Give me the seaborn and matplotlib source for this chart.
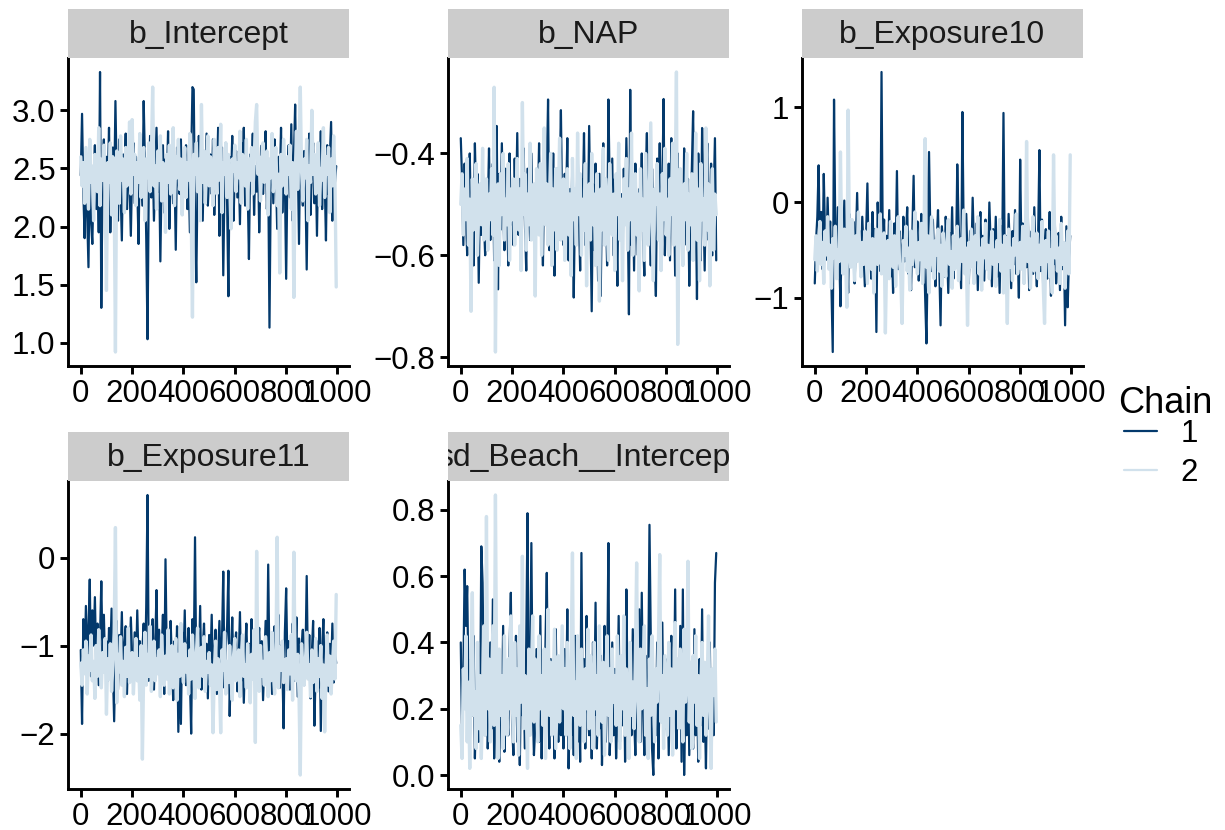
import numpy as np
import pandas as pd
import matplotlib
matplotlib.use("Agg")
import matplotlib.pyplot as plt
from matplotlib.lines import Line2D
from matplotlib.ticker import MultipleLocator
import seaborn as sns

# Trace values (every 5th iteration, chains 1 and 2)
parametros = ["b_Intercept", "b_NAP", "b_Exposure10", "b_Exposure11", "sd_Beach__Intercept"]
cadeias = ["1", "2"]
passo_iter = 5

b_intercept_c1 = [
    2.44, 2.97, 2.30, 1.90, 2.55, 2.10, 1.65, 2.62, 2.05, 1.85, 2.40, 2.70, 2.15, 2.58, 1.95, 3.33, 1.30, 2.48, 2.75, 2.20,
    2.60, 2.35, 2.85, 1.95, 2.52, 2.68, 2.25, 3.08, 2.40, 2.05, 2.75, 2.30, 1.88, 2.62, 2.45, 2.80, 2.15, 2.55, 2.38, 1.92,
    2.50, 2.72, 2.20, 2.60, 2.35, 1.85, 2.65, 2.42, 2.18, 3.08, 2.55, 1.90, 1.03, 2.40, 2.78, 2.25, 2.60, 2.05, 2.45, 2.85,
    2.30, 2.55, 1.70, 2.48, 2.70, 2.12, 2.58, 2.35, 2.82, 1.98, 2.45, 2.62, 2.20, 2.50, 1.80, 2.68, 2.40, 2.28, 2.75, 2.10,
    2.55, 2.38, 2.70, 2.15, 2.48, 1.95, 2.60, 3.20, 3.18, 2.05, 1.52, 2.42, 2.78, 2.25, 2.52, 2.05, 2.65, 2.30, 2.80, 2.18,
    2.45, 2.62, 2.28, 2.75, 2.10, 2.55, 2.38, 2.85, 1.92, 2.50, 2.68, 1.58, 2.40, 2.72, 2.20, 1.40, 2.60, 2.35, 2.78, 2.05,
    2.48, 2.65, 2.25, 2.55, 2.02, 2.72, 2.40, 2.85, 2.18, 2.58, 2.35, 1.72, 2.62, 2.45, 2.80, 2.10, 2.52, 2.30, 2.68, 1.95,
    2.42, 2.70, 2.28, 2.58, 2.82, 2.15, 2.50, 1.13, 2.38, 2.65, 2.20, 2.75, 2.45, 1.98, 2.60, 2.35, 2.85, 2.12, 2.55, 2.40,
    1.55, 2.48, 2.70, 2.25, 2.88, 2.05, 2.58, 3.05, 2.32, 2.62, 1.85, 2.75, 2.42, 2.18, 2.65, 2.38, 1.63, 2.55, 2.80, 2.10,
    2.48, 2.72, 2.20, 2.58, 1.92, 2.65, 2.35, 2.82, 2.15, 2.55, 2.42, 1.88, 2.70, 2.28, 2.60, 2.90, 2.05, 2.50, 2.38, 2.52,
]
b_intercept_c2 = [
    2.60, 2.35, 2.55, 2.20, 2.68, 2.42, 2.15, 2.75, 2.38, 2.52, 2.05, 2.62, 2.45, 2.30, 2.85, 2.18, 2.58, 2.40, 2.70, 2.25,
    1.45, 2.55, 2.38, 2.72, 2.10, 2.60, 2.32, 0.92, 2.65, 2.48, 2.20, 2.78, 2.40, 2.58, 2.12, 2.68, 2.35, 2.50, 2.90, 2.28,
    2.92, 2.45, 2.62, 2.18, 2.55, 2.38, 2.80, 2.25, 2.50, 2.68, 2.05, 2.58, 2.42, 2.72, 2.30, 2.60, 3.20, 2.35, 2.52, 2.15,
    2.65, 2.40, 2.78, 2.22, 2.55, 2.45, 1.95, 2.62, 2.38, 2.70, 2.28, 2.52, 2.85, 2.18, 2.60, 2.42, 2.75, 2.32, 2.58, 2.10,
    2.48, 2.68, 2.25, 2.55, 2.40, 2.80, 2.15, 1.22, 2.62, 2.45, 2.72, 2.30, 2.58, 2.05, 3.05, 2.38, 2.65, 2.20, 2.52, 2.78,
    2.35, 2.60, 2.42, 2.18, 2.75, 2.50, 2.28, 2.68, 2.40, 2.88, 2.12, 2.55, 2.45, 2.72, 2.25, 2.62, 2.38, 1.98, 2.58, 2.48,
    2.70, 2.30, 2.55, 2.42, 2.82, 2.20, 2.62, 2.48, 2.35, 2.75, 2.15, 2.58, 2.40, 2.68, 2.28, 2.52, 2.90, 3.05, 2.45, 2.60,
    2.22, 2.55, 2.72, 2.38, 2.48, 2.65, 2.10, 2.58, 2.42, 2.80, 2.30, 2.52, 2.68, 2.18, 2.45, 1.60, 2.62, 2.35, 2.75, 2.50,
    2.28, 2.60, 2.45, 2.70, 2.15, 2.55, 1.39, 2.40, 2.82, 2.32, 2.65, 3.20, 2.48, 2.22, 2.58, 2.42, 2.75, 2.05, 2.52, 2.38,
    3.00, 2.45, 2.62, 2.28, 2.55, 2.72, 2.18, 2.50, 2.40, 2.85, 2.25, 2.60, 2.45, 2.68, 2.12, 2.58, 2.35, 2.78, 2.42, 1.48,
]

b_nap_c1 = [
    -0.37, -0.45, -0.58, -0.42, -0.52, -0.60, -0.48, -0.40, -0.55, -0.46, -0.62, -0.38, -0.50, -0.44, -0.654, -0.47, -0.56, -0.41, -0.53, -0.60,
    -0.45, -0.52, -0.39, -0.57, -0.48, -0.42, -0.61, -0.50, -0.346, -0.667, -0.44, -0.55, -0.38, -0.51, -0.59, -0.43, -0.49, -0.62, -0.40, -0.54,
    -0.47, -0.58, -0.41, -0.52, -0.36, -0.56, -0.45, -0.60, -0.49, -0.39, -0.54, -0.63, -0.43, -0.50, -0.57, -0.40, -0.53, -0.46, -0.61, -0.44,
    -0.51, -0.38, -0.56, -0.48, -0.62, -0.42, -0.53, -0.45, -0.294, -0.59, -0.47, -0.55, -0.40, -0.64, -0.49, -0.43, -0.57, -0.46, -0.315, -0.52,
    -0.58, -0.44, -0.50, -0.37, -0.61, -0.47, -0.54, -0.41, -0.683, -0.49, -0.56, -0.39, -0.52, -0.63, -0.45, -0.50, -0.36, -0.58, -0.48, -0.55,
    -0.346, -0.53, -0.71, -0.46, -0.59, -0.42, -0.51, -0.65, -0.44, -0.68, -0.48, -0.38, -0.57, -0.50, -0.62, -0.294, -0.47, -0.55, -0.41, -0.60,
    -0.45, -0.52, -0.66, -0.39, -0.56, -0.48, -0.61, -0.43, -0.54, -0.37, -0.50, -0.716, -0.275, -0.58, -0.46, -0.63, -0.42, -0.53, -0.60, -0.47,
    -0.51, -0.40, -0.57, -0.64, -0.45, -0.36, -0.55, -0.49, -0.62, -0.43, -0.53, -0.58, -0.68, -0.41, -0.50, -0.38, -0.56, -0.47, -0.293, -0.60,
    -0.48, -0.55, -0.42, -0.61, -0.37, -0.52, -0.46, -0.64, -0.50, -0.40, -0.57, -0.44, -0.53, -0.62, -0.39, -0.49, -0.58, -0.45, -0.66, -0.51,
    -0.43, -0.317, -0.56, -0.48, -0.686, -0.40, -0.54, -0.61, -0.35, -0.50, -0.63, -0.46, -0.38, -0.57, -0.52, -0.42, -0.60, -0.48, -0.37, -0.61,
]
b_nap_c2 = [
    -0.50, -0.44, -0.56, -0.47, -0.53, -0.41, -0.58, -0.49, -0.71, -0.45, -0.55, -0.48, -0.42, -0.60, -0.51, -0.46, -0.54, -0.39, -0.57, -0.50,
    -0.45, -0.59, -0.48, -0.53, -0.43, -0.56, -0.27, -0.79, -0.50, -0.46, -0.62, -0.44, -0.52, -0.40, -0.57, -0.49, -0.54, -0.42, -0.61, -0.47,
    -0.53, -0.45, -0.58, -0.49, -0.41, -0.55, -0.47, -0.63, -0.30, -0.52, -0.44, -0.59, -0.48, -0.54, -0.38, -0.57, -0.50, -0.46, -0.68, -0.43,
    -0.51, -0.56, -0.42, -0.60, -0.48, -0.35, -0.54, -0.46, -0.58, -0.50, -0.40, -0.62, -0.47, -0.55, -0.43, -0.59, -0.49, -0.37, -0.57, -0.52,
    -0.45, -0.61, -0.50, -0.43, -0.56, -0.48, -0.64, -0.41, -0.53, -0.47, -0.58, -0.36, -0.52, -0.44, -0.60, -0.49, -0.55, -0.42, -0.66, -0.50,
    -0.46, -0.57, -0.40, -0.54, -0.48, -0.62, -0.44, -0.51, -0.69, -0.47, -0.55, -0.39, -0.58, -0.45, -0.53, -0.61, -0.42, -0.50, -0.56, -0.48,
    -0.63, -0.44, -0.52, -0.38, -0.57, -0.49, -0.65, -0.45, -0.54, -0.41, -0.59, -0.47, -0.53, -0.36, -0.60, -0.50, -0.44, -0.56, -0.48, -0.67,
    -0.43, -0.55, -0.49, -0.61, -0.40, -0.52, -0.58, -0.46, -0.34, -0.54, -0.65, -0.47, -0.50, -0.42, -0.57, -0.48, -0.63, -0.44, -0.53, -0.39,
    -0.56, -0.49, -0.60, -0.45, -0.52, -0.38, -0.58, -0.47, -0.24, -0.775, -0.51, -0.43, -0.55, -0.62, -0.46, -0.53, -0.40, -0.59, -0.48, -0.54,
    -0.44, -0.61, -0.50, -0.36, -0.57, -0.47, -0.65, -0.42, -0.53, -0.49, -0.58, -0.35, -0.55, -0.46, -0.66, -0.51, -0.43, -0.59, -0.48, -0.52,
]

b_exp10_c1 = [
    -0.85, -0.40, -0.15, 0.39, -0.55, -0.10, -0.70, 0.30, -0.35, -0.60, 0.05, -0.45, -0.20, -0.90, -1.57, 1.08, -0.30, -0.65, -0.05, -0.50,
    -1.09, -0.25, -0.55, 0.02, -0.75, -0.38, -0.95, -0.12, -0.48, -0.65, -0.20, -0.85, -0.42, 0.10, -0.58, -0.30, -0.70, -0.15, -0.52, -0.88,
    -0.35, 0.20, -0.62, -0.45, -0.80, -0.10, -0.55, -0.28, -1.36, 0.00, -0.40, -0.72, 1.37, -0.50, -0.18, -0.90, -0.35, -0.60, -0.08, -0.78,
    -0.42, -0.95, -0.22, -0.58, 0.33, -0.70, -0.30, -0.48, -0.85, -0.15, -0.62, -0.40, -0.05, -0.75, -0.52, -0.92, -0.33, 0.28, -0.68, -0.45,
    -0.20, -0.82, -0.50, -0.12, -0.65, -0.38, -1.00, -1.48, -0.55, 0.53, -0.30, -0.72, -0.18, -0.60, -0.88, -0.42, -0.08, -0.70, -1.29, -0.25,
    -0.52, -0.78, -0.15, -0.45, -0.95, -0.32, -0.62, -0.05, -0.80, -0.40, -0.68, 0.40, -0.20, -0.55, -0.90, 0.95, -0.35, -0.72, -0.12, -0.58,
    -0.85, -0.30, -0.60, 0.05, -0.48, -0.75, -0.22, -0.92, -0.40, -0.10, -0.65, -0.35, -0.82, -0.18, -0.55, -0.70, 0.00, -0.45, -0.88, -0.28,
    -0.62, -0.15, -0.78, -0.40, -0.95, -0.25, -0.58, 0.94, -0.68, -0.35, -0.82, -0.12, -0.50, -0.90, -0.30, -0.65, -0.08, -0.75, -0.42, -1.00,
    0.45, -0.55, -0.22, -0.85, -0.38, -0.68, -0.15, -0.92, -0.48, -0.30, -0.75, -0.05, -0.60, -0.88, -0.35, 0.55, -0.72, -0.18, -0.95, -0.45,
    -0.28, -0.80, -0.52, -0.10, -0.98, -0.40, -0.65, -0.20, -0.85, -0.55, -0.32, -0.92, -0.15, -0.70, -0.45, -1.29, -0.25, -1.10, -0.60, -0.35,
]
b_exp10_c2 = [
    -0.60, -0.35, -0.72, -0.48, -0.20, -0.65, -0.42, -0.85, -0.30, -0.55, -0.15, -0.70, -0.45, -0.90, -0.38, -0.58, -0.25, -0.80, -0.50, -0.62,
    0.53, -0.45, -0.75, -0.28, -0.60, -1.10, 0.97, -0.40, -0.68, -0.18, -0.55, -0.82, -0.35, -0.62, -0.10, -0.50, -0.78, -0.42, -0.65, -0.30,
    -0.58, -0.85, -0.22, -0.48, -0.70, -0.38, -0.95, -0.52, -0.28, -0.65, -0.45, -0.12, -0.75, -0.55, -0.32, -1.37, -0.60, -0.40, -0.80, -0.20,
    -0.52, -0.68, -0.35, -0.88, -0.45, -0.15, -0.62, -0.78, -1.27, -0.40, -0.55, -0.25, -0.72, -0.48, -0.92, -0.30, -0.65, -0.50, -0.10, -0.58,
    -0.75, -0.42, -0.60, -0.22, -0.85, -0.50, 0.67, -0.68, -0.35, -0.95, -0.48, -0.15, -0.62, -0.80, -0.40, -0.55, -0.28, -0.72, -0.45, -0.88,
    -0.32, -0.58, -0.78, -0.40, -0.18, -0.65, -0.52, -0.90, -0.35, -0.70, -0.45, -0.25, -0.82, -0.55, -0.38, -0.62, -0.08, -0.75, -0.48, -1.29,
    -0.42, -0.68, -0.28, -0.55, -0.85, -0.35, -0.60, -0.15, -0.75, -0.48, -0.92, -0.38, -0.58, -0.22, -0.70, -0.45, -0.80, -0.52, -0.30, -0.65,
    -0.50, -0.88, -0.40, -0.62, -0.18, -0.72, -0.45, -0.95, -0.35, -0.58, -1.27, -0.28, -0.68, -0.48, -0.82, -0.38, -0.55, -0.12, -0.75, -0.60,
    -0.42, -0.70, -0.25, -0.85, -0.52, 0.64, -0.62, -0.38, -0.90, -0.48, -0.15, -0.72, -0.58, -0.32, -0.80, -0.45, -0.65, -0.20, -0.88, -1.27,
    -0.40, -0.62, -0.30, -0.78, -0.50, -0.95, 0.50, -0.58, -0.35, -0.72, -0.48, -0.85, -0.22, -0.65, -0.42, -0.90, -0.55, -0.30, -0.75, 0.50,
]

b_exp11_c1 = [
    -1.05, -1.89, -0.70, -1.25, -0.55, -1.10, -0.85, -0.25, -1.35, -0.60, -1.00, -0.45, -1.20, -0.75, -1.45, -0.90, -0.27, -1.15, -0.65, -1.30,
    -0.95, -1.40, -0.80, -1.10, -0.58, -1.25, -1.86, -1.05, -0.72, -1.50, -0.88, -1.20, -0.62, -1.38, -1.00, -0.78, -1.55, -0.92, -1.28, -0.68,
    -1.12, -1.45, -0.85, -1.30, -0.60, -1.18, -0.95, -1.60, -1.05, -0.75, -1.35, -0.55, 0.71, -1.40, -0.90, -1.22, -0.70, -1.50, -1.00, -0.37,
    -1.28, -0.82, -1.42, -1.08, -0.65, -1.55, -0.02, -1.15, -0.88, -1.38, -0.72, -1.20, -1.62, -0.95, -1.30, -0.78, -1.98, -1.10, -1.89, -0.85,
    -1.25, -0.60, -1.45, -1.02, -0.80, -1.35, -2.00, -0.70, -1.18, 0.23, -1.40, -0.92, -1.28, -0.55, -1.50, -1.05, -0.75, -1.32, -0.98, -1.60,
    -0.88, -1.22, -0.65, -1.42, -1.05, -0.82, -1.55, -1.12, -0.72, -1.35, -0.95, -0.16, -1.48, -1.00, -0.78, -0.15, -1.80, -1.15, -0.68, -1.38,
    -1.02, -0.85, -1.52, -1.20, -0.62, -1.40, -0.92, -1.65, -1.08, -0.75, -1.30, -0.98, -1.58, -0.70, -1.25, -1.10, -0.88, -1.45, -1.00, -0.80,
    -1.35, -0.95, -1.62, -1.15, -0.72, -1.42, -0.08, -1.28, -0.90, -1.55, -1.05, -0.78, -1.38, -1.10, -0.65, -1.48, -1.00, -1.20, -1.94, -0.85,
    -0.35, -1.25, -0.95, -1.50, -1.08, -0.75, -1.40, -1.15, -0.68, -1.58, -0.92, -1.30, -1.02, -0.82, -1.45, -1.18, -0.21, -1.35, -0.88, -1.60,
    -1.10, -0.72, -1.91, -1.25, -0.95, -1.48, -0.80, -1.97, -1.05, -0.70, -1.38, -1.15, -0.85, -1.52, -0.98, -1.30, -0.75, -1.42, -1.08, -1.20,
]
b_exp11_c2 = [
    -1.20, -1.45, -1.05, -1.32, -0.95, -1.55, -1.12, -1.28, -0.88, -1.40, -1.18, -1.60, -1.00, -1.35, -0.82, -1.25, -1.48, -1.08, -1.30, -0.92,
    -1.78, -1.15, -1.38, -0.98, -1.52, -1.22, -0.85, 0.34, -1.65, -1.10, -1.30, -0.90, -1.45, -1.18, -1.58, -1.02, -1.35, -0.80, -1.42, -1.25,
    -1.08, -1.55, -1.20, -0.92, -1.40, -1.15, -1.62, -1.00, -2.29, -1.28, -0.85, -1.45, -1.10, -1.35, -0.78, -1.52, -1.22, -0.95, -1.40, -1.15,
    -1.32, -1.05, -1.58, -0.88, -1.25, -1.45, -1.12, -1.38, -0.82, -1.55, -1.18, -1.00, -1.48, -1.28, -0.92, -1.62, -1.10, -1.35, -0.75, -1.22,
    -1.42, -0.98, -1.30, -1.15, -1.55, -1.05, -1.38, -0.88, -1.25, -1.60, -1.12, -0.80, -1.48, -1.20, -1.02, -1.35, -0.90, -1.52, -1.18, -1.30,
    -1.08, -1.45, -1.22, -1.99, -1.32, -0.95, -1.50, -1.15, -1.38, -1.99, -1.05, -1.28, -0.85, -1.55, -1.18, -1.42, -1.00, -1.35, -1.62, -1.12,
    -0.92, -1.40, -1.25, -1.05, -1.58, -1.15, -0.88, -1.35, -1.22, -1.48, -0.98, -1.30, -1.65, -1.10, -1.38, -0.82, -2.10, 0.07, -1.28, -1.52,
    -1.00, -1.35, -1.18, -1.45, -0.90, -1.25, -1.58, -1.08, -1.40, -0.85, -1.30, -1.55, -1.12, 0.23, -1.48, -1.02, -1.28, -0.95, -1.42, -1.20,
    -1.15, -1.50, -1.05, -1.32, -0.88, -1.62, 0.06, -1.25, -1.40, -1.10, -1.55, -2.47, -0.98, -1.30, -1.45, -1.18, -0.85, -1.38, -1.22, -1.58,
    -1.05, -1.42, -1.28, -0.92, -1.52, -1.15, -1.35, -1.00, -1.60, -1.22, -1.98, -1.30, -0.88, -1.45, -1.12, -1.55, -1.25, -0.95, -1.38, -0.42,
]

sd_beach_c1 = [
    0.40, 0.12, 0.30, 0.62, 0.45, 0.57, 0.28, 0.08, 0.35, 0.18, 0.42, 0.05, 0.22, 0.36, 0.10, 0.15, 0.69, 0.58, 0.25, 0.12,
    0.30, 0.08, 0.18, 0.40, 0.14, 0.53, 0.05, 0.22, 0.35, 0.10, 0.04, 0.28, 0.15, 0.45, 0.07, 0.32, 0.20, 0.12, 0.38, 0.55,
    0.15, 0.06, 0.28, 0.42, 0.10, 0.20, 0.03, 0.35, 0.18, 0.25, 0.08, 0.40, 0.79, 0.12, 0.30, 0.70, 0.22, 0.06, 0.15, 0.38,
    0.20, 0.10, 0.48, 0.05, 0.30, 0.16, 0.40, 0.61, 0.22, 0.08, 0.35, 0.14, 0.26, 0.05, 0.44, 0.18, 0.10, 0.32, 0.12, 0.25,
    0.08, 0.38, 0.15, 0.50, 0.02, 0.22, 0.12, 0.30, 0.06, 0.42, 0.18, 0.10, 0.28, 0.04, 0.67, 0.15, 0.35, 0.08, 0.48, 0.20,
    0.12, 0.30, 0.05, 0.40, 0.18, 0.52, 0.08, 0.25, 0.14, 0.36, 0.03, 0.22, 0.45, 0.10, 0.28, 0.70, 0.06, 0.18, 0.40, 0.12,
    0.32, 0.05, 0.20, 0.48, 0.10, 0.26, 0.15, 0.38, 0.04, 0.56, 0.22, 0.08, 0.35, 0.12, 0.44, 0.18, 0.06, 0.30, 0.14, 0.50,
    0.10, 0.55, 0.20, 0.06, 0.36, 0.15, 0.28, 0.755, 0.42, 0.08, 0.00, 0.25, 0.12, 0.40, 0.05, 0.30, 0.18, 0.46, 0.10, 0.22,
    0.14, 0.35, 0.06, 0.28, 0.42, 0.10, 0.20, 0.56, 0.08, 0.32, 0.15, 0.45, 0.04, 0.56, 0.00, 0.24, 0.12, 0.38, 0.06, 0.30,
    0.18, 0.08, 0.44, 0.12, 0.26, 0.04, 0.35, 0.15, 0.50, 0.10, 0.22, 0.02, 0.32, 0.14, 0.40, 0.08, 0.28, 0.12, 0.58, 0.67,
]
sd_beach_c2 = [
    0.15, 0.05, 0.32, 0.20, 0.42, 0.10, 0.28, 0.02, 0.36, 0.55, 0.18, 0.25, 0.08, 0.40, 0.14, 0.30, 0.05, 0.22, 0.45, 0.12,
    0.78, 0.20, 0.35, 0.10, 0.28, 0.45, 0.15, 0.845, 0.25, 0.05, 0.38, 0.18, 0.30, 0.08, 0.42, 0.22, 0.12, 0.35, 0.20, 0.48,
    0.25, 0.10, 0.40, 0.18, 0.32, 0.06, 0.45, 0.22, 0.66, 0.14, 0.30, 0.20, 0.02, 0.38, 0.12, 0.28, 0.48, 0.16, 0.35, 0.24,
    0.10, 0.42, 0.20, 0.30, 0.15, 0.38, 0.05, 0.26, 0.50, 0.18, 0.34, 0.12, 0.28, 0.44, 0.08, 0.22, 0.36, 0.16, 0.30, 0.45,
    0.20, 0.32, 0.12, 0.40, 0.25, 0.08, 0.35, 0.67, 0.18, 0.28, 0.05, 0.42, 0.22, 0.15, 0.38, 0.26, 0.10, 0.32, 0.20, 0.44,
    0.14, 0.36, 0.24, 0.08, 0.40, 0.20, 0.30, 0.12, 0.45, 0.26, 0.16, 0.34, 0.06, 0.28, 0.42, 0.18, 0.32, 0.10, 0.38, 0.22,
    0.30, 0.15, 0.42, 0.25, 0.08, 0.36, 0.20, 0.48, 0.12, 0.32, 0.24, 0.05, 0.40, 0.18, 0.28, 0.14, 0.35, 0.64, 0.22, 0.10,
    0.38, 0.20, 0.30, 0.45, 0.12, 0.26, 0.05, 0.35, 0.18, 0.42, 0.28, 0.10, 0.32, 0.22, 0.40, 0.665, 0.16, 0.30, 0.08, 0.36,
    0.24, 0.12, 0.40, 0.18, 0.32, 0.06, 0.28, 0.46, 0.20, 0.35, 0.14, 0.38, 0.25, 0.10, 0.44, 0.22, 0.30, 0.645, 0.16, 0.34,
    0.08, 0.36, 0.22, 0.42, 0.15, 0.30, 0.05, 0.26, 0.40, 0.18, 0.34, 0.12, 0.28, 0.48, 0.20, 0.02, 0.32, 0.24, 0.38, 0.16,
]

passos_y = [0.5, 0.2, 1, 1, 0.2]
ticks_x = [0, 200, 400, 600, 800, 1000]

# Tabela longa
valores = {
    "b_Intercept": (b_intercept_c1, b_intercept_c2),
    "b_NAP": (b_nap_c1, b_nap_c2),
    "b_Exposure10": (b_exp10_c1, b_exp10_c2),
    "b_Exposure11": (b_exp11_c1, b_exp11_c2),
    "sd_Beach__Intercept": (sd_beach_c1, sd_beach_c2),
}
linhas = []
for p in parametros:
    for c, serie in zip(cadeias, valores[p]):
        for k, v in enumerate(serie):
            linhas.append({"Parameter": p, "Chain": c, "Iteration": 1 + k * passo_iter, "Value": v})
df = pd.DataFrame(linhas)

sns.set_theme(style="ticks")
plt.rcParams['font.family'] = ['Liberation Sans', 'DejaVu Sans']
plt.rcParams['text.color'] = 'black'

cores = {"1": "#03396c", "2": "#d1e1ec"}
espessuras = {"1": 1.6, "2": 2.4}
W, H = 1225, 830
fig = plt.figure(figsize=(W / 100, H / 100), dpi=100)
fig.patch.set_facecolor("white")

# caixas dos painéis em pixels
esquerdas = [68, 448, 802]
fundos = [366, 789]
larg, alt, alt_strip = 281, 308, 49

for i, p in enumerate(parametros):
    lin, col = divmod(i, 3)
    x0 = esquerdas[col]
    yb = fundos[lin]
    ax = fig.add_axes([x0 / W, 1 - yb / H, larg / W, alt / H])
    sns.lineplot(data=df[df["Parameter"] == p], x="Iteration", y="Value", hue="Chain",
                 hue_order=cadeias, palette=cores, size="Chain", sizes=espessuras,
                 size_order=cadeias, estimator=None, sort=False, legend=False, ax=ax)
    ax.set_xlabel("")
    ax.set_ylabel("")
    ax.set_xticks(ticks_x)
    ax.yaxis.set_major_locator(MultipleLocator(passos_y[i]))
    ax.margins(x=0.05, y=0.05)
    sns.despine(ax=ax)
    for s in ["left", "bottom"]:
        ax.spines[s].set_linewidth(2.1)
        ax.spines[s].set_color("black")
    ax.tick_params(axis="both", length=6, width=2.1, labelsize=22.5, colors="black", pad=3)
    ax.set_facecolor("white")

    # faixa cinza do título
    sax = fig.add_axes([x0 / W, 1 - (yb - alt) / H, larg / W, alt_strip / H])
    sax.set_facecolor("#cccccc")
    sax.set_xticks([])
    sax.set_yticks([])
    for s in sax.spines.values():
        s.set_visible(False)
    t = sax.text(0.5, 0.46, p, ha="center", va="center", fontsize=23,
                 color="#1a1a1a", transform=sax.transAxes)
    t.set_clip_on(True)

# legenda
fig.text(1118 / W, 1 - 403 / H, "Chain", fontsize=26, ha="left", va="center", color="black")
handles = [Line2D([], [], color=cores[c], linewidth=1.6) for c in cadeias]
leg = fig.legend(handles, cadeias, loc="upper left",
                 bbox_to_anchor=(1124 / W, 1 - 419 / H), frameon=False,
                 fontsize=22.5, handlelength=1.05,
                 handletextpad=0.75, labelspacing=0.3, borderpad=0,
                 borderaxespad=0)
for tx in leg.get_texts():
    tx.set_color("black")

plt.savefig("out.png", dpi=100)
